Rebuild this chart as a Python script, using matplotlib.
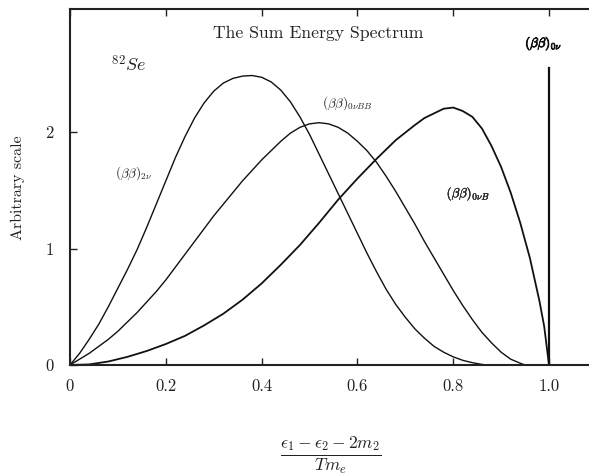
import matplotlib
matplotlib.use("Agg")
import matplotlib.pyplot as plt
import matplotlib.patheffects as pe

plt.rcParams['font.family'] = ['cmr10', 'DejaVu Serif']
plt.rcParams['mathtext.fontset'] = 'cm'
plt.rcParams['axes.formatter.use_mathtext'] = True

# Sum-energy spectra for 82Se (arbitrary scale)
x_2nu = [0.0, 0.02, 0.04, 0.06, 0.08, 0.10, 0.12, 0.14, 0.16, 0.18, 0.20, 0.22,
         0.24, 0.26, 0.28, 0.30, 0.32, 0.34, 0.36, 0.38, 0.40, 0.42, 0.44, 0.46,
         0.48, 0.50, 0.52, 0.54, 0.56, 0.58, 0.60, 0.62, 0.64, 0.66, 0.68, 0.70,
         0.72, 0.74, 0.76, 0.78, 0.80, 0.82, 0.84, 0.86, 0.87]
y_2nu = [0.0, 0.10, 0.22, 0.35, 0.50, 0.66, 0.82, 0.99, 1.18, 1.38, 1.58, 1.78,
         1.96, 2.12, 2.25, 2.35, 2.42, 2.46, 2.48, 2.485, 2.47, 2.43, 2.36, 2.26,
         2.13, 1.98, 1.81, 1.64, 1.47, 1.30, 1.13, 0.96, 0.80, 0.65, 0.52, 0.41,
         0.31, 0.23, 0.16, 0.11, 0.07, 0.04, 0.02, 0.005, 0.0]

x_0nubb = [0.0, 0.02, 0.04, 0.06, 0.08, 0.10, 0.12, 0.14, 0.16, 0.18, 0.20, 0.22,
           0.24, 0.26, 0.28, 0.30, 0.32, 0.34, 0.36, 0.38, 0.40, 0.42, 0.44, 0.46,
           0.48, 0.50, 0.52, 0.54, 0.56, 0.58, 0.60, 0.62, 0.64, 0.66, 0.68, 0.70,
           0.72, 0.74, 0.76, 0.78, 0.80, 0.82, 0.84, 0.86, 0.88, 0.90, 0.92, 0.94,
           0.95]
y_0nubb = [0.0, 0.05, 0.10, 0.16, 0.22, 0.29, 0.37, 0.45, 0.54, 0.63, 0.73, 0.84,
           0.95, 1.06, 1.17, 1.28, 1.38, 1.48, 1.58, 1.67, 1.76, 1.84, 1.92, 1.99,
           2.04, 2.07, 2.08, 2.07, 2.04, 1.99, 1.92, 1.84, 1.74, 1.62, 1.49, 1.35,
           1.21, 1.06, 0.92, 0.78, 0.64, 0.51, 0.39, 0.28, 0.19, 0.11, 0.05, 0.015,
           0.0]

x_0nub = [0.0, 0.04, 0.08, 0.12, 0.16, 0.20, 0.24, 0.28, 0.32, 0.36, 0.40, 0.44,
          0.48, 0.52, 0.56, 0.60, 0.64, 0.68, 0.72, 0.74, 0.76, 0.78, 0.80, 0.82,
          0.84, 0.86, 0.88, 0.90, 0.92, 0.94, 0.96, 0.98, 0.99, 1.0]
y_0nub = [0.0, 0.005, 0.03, 0.07, 0.12, 0.18, 0.25, 0.34, 0.44, 0.56, 0.70, 0.86,
          1.03, 1.22, 1.42, 1.60, 1.77, 1.93, 2.06, 2.12, 2.16, 2.20, 2.21, 2.18,
          2.13, 2.03, 1.88, 1.70, 1.48, 1.22, 0.92, 0.55, 0.33, 0.0]

x_0nu = [1.0, 1.0]
y_0nu = [0.0, 2.55]

x_ticks = [0, 0.2, 0.4, 0.6, 0.8, 1.0]
x_ticklabels = ['0', '0.2', '0.4', '0.6', '0.8', '1.0']
y_ticks = [0, 1, 2]
y_ticklabels = ['0', '1', '2']

fig = plt.figure(figsize=(5.89, 4.75), dpi=100)
ax = fig.add_axes([70 / 589, 1 - 365 / 475, 1 - 70 / 589, (365 - 9) / 475])

lc = '#111111'
ax.plot(x_2nu, y_2nu, color=lc, lw=1.0)
ax.plot(x_0nubb, y_0nubb, color=lc, lw=1.0)
ax.plot(x_0nub, y_0nub, color=lc, lw=1.3)
ax.plot(x_0nu, y_0nu, color=lc, lw=1.6)

ax.set_xlim(0, 1.0835)
ax.set_ylim(0, 3.056)

ax.spines['right'].set_visible(False)
for s in ['left', 'bottom', 'top']:
    ax.spines[s].set_linewidth(1.5)
    ax.spines[s].set_color('#222222')

ax.set_xticks(x_ticks)
ax.set_xticklabels(x_ticklabels)
ax.set_yticks(y_ticks)
ax.set_yticklabels(y_ticklabels)
ax.tick_params(axis='both', direction='in', length=5, width=1.0,
               labelsize=12, colors='#222222')
ax.tick_params(axis='x', top=True, pad=10)
ax.tick_params(axis='y', pad=12)

ax.text(0.518, 2.85, 'The Sum Energy Spectrum', ha='center', va='center',
        fontsize=12.7, color='#222222')
ax.text(0.085, 2.58, r'$^{82}Se$', ha='left', va='center', fontsize=13, color='#222222')
ax.text(0.094, 1.65, r'$(\beta\beta)_{2\nu}$', ha='left', va='center', fontsize=9.5,
        color='#222222')
ax.text(0.527, 2.25, r'$(\beta\beta)_{0\nu BB}$', ha='left', va='center', fontsize=9.5,
        color='#222222')
ax.text(0.786, 1.47, r'$(\beta\beta)_{0\nu B}$', ha='left', va='center', fontsize=9.5,
        color='#222222',
        path_effects=[pe.withStroke(linewidth=0.25, foreground='#222222')])
ax.text(0.95, 2.76, r'$(\beta\beta)_{0\nu}$', ha='left', va='center',
        fontsize=9.5, color='#111111',
        path_effects=[pe.withStroke(linewidth=0.6, foreground='#111111')])

fig.text(18 / 589, 1 - 188 / 475, 'Arbitrary scale', rotation=90, ha='center',
         va='center', fontsize=11.5, color='#222222')
fig.text(331 / 589, 1 - 455 / 475, r'$\frac{\epsilon_1-\epsilon_2-2m_2}{Tm_e}$',
         ha='center', va='center', fontsize=18, color='#222222')

fig.savefig('out.png', dpi=100)
